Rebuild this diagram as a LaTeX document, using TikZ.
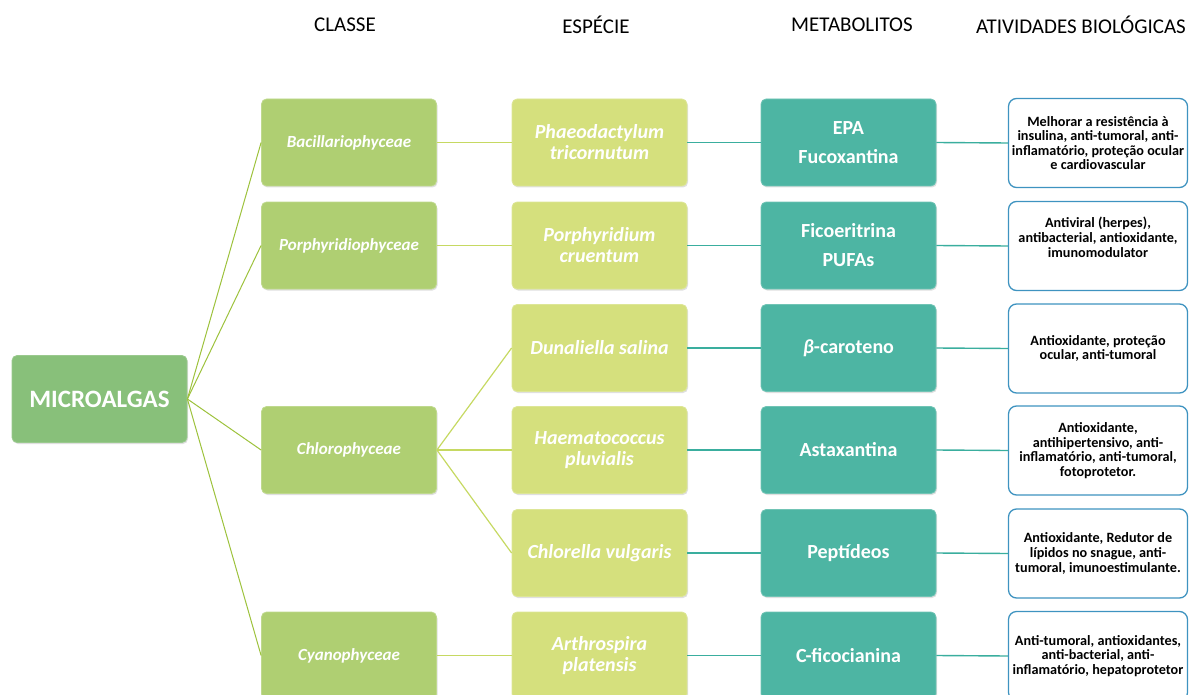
\documentclass[tikz,border=0pt]{standalone}
\usepackage{fontspec}
\setmainfont{Carlito}
\usetikzlibrary{shadows}
\definecolor{cmain}{HTML}{88C07A}
\definecolor{cclass}{HTML}{AFCF72}
\definecolor{cspec}{HTML}{D5E07D}
\definecolor{cmeta}{HTML}{4DB5A3}
\definecolor{cact}{HTML}{3E93C0}
\definecolor{lgreen}{HTML}{9DC23C}
\definecolor{lyel}{HTML}{C6D962}
\definecolor{lteal}{HTML}{3AAE9E}
\tikzset{
  box/.style={rounded corners=5pt, minimum width=175pt, minimum height=87pt, inner sep=2pt, align=center, text=white,
    drop shadow={opacity=0.25, shadow xshift=1pt, shadow yshift=-1.5pt}},
  mainbox/.style={box, fill=cmain, draw=cmain!85!white, line width=0.8pt, font=\fontsize{25}{30}\selectfont\bfseries},
  classbox/.style={box, fill=cclass, draw=cclass!80!white, line width=0.8pt, font=\fontsize{17}{20}\selectfont\bfseries\itshape},
  specbox/.style={box, fill=cspec, draw=cspec!80!white, line width=0.8pt, font=\fontsize{20}{21}\selectfont\bfseries\itshape},
  metabox/.style={box, fill=cmeta, draw=cmeta!80!white, line width=0.8pt, font=\fontsize{20}{29}\selectfont\bfseries},
  actbox/.style={rounded corners=8pt, minimum width=179pt, minimum height=89pt, inner sep=1pt, align=center, fill=white,
    draw=cact, line width=1.3pt, font=\fontsize{14.2}{14.6}\selectfont\bfseries, text=black},
  hdr/.style={font=\fontsize{21}{24}\selectfont, text=black},
  gl/.style={draw=lgreen, line width=1pt},
  yl/.style={draw=lyel, line width=1.2pt},
  tl/.style={draw=lteal, line width=1.4pt}
}
\begin{document}
\begin{tikzpicture}[x=1pt,y=-1pt]
\useasboundingbox (0,0) rectangle (1193,695);
% headers
\node[hdr] (h1) at (345,25) {CLASSE};
\node[hdr] (h2) at (596,25) {ESPÉCIE};
\node[hdr] (h3) at (852,25) {METABOLITOS};
\node[hdr] (h4) at (1081,25) {ATIVIDADES BIOLÓGICAS};
% main
\node[mainbox] (m) at (99.5,399) {MICROALGAS};
% classes
\node[classbox] (c1) at (349,142.5) {Bacillariophyceae};
\node[classbox] (c2) at (349,245.5) {Porphyridiophyceae};
\node[classbox] (c3) at (349,450) {Chlorophyceae};
\node[classbox] (c4) at (349,655.5) {Cyanophyceae};
% species
\node[specbox] (s1) at (599.5,142.5) {Phaeodactylum\\tricornutum};
\node[specbox] (s2) at (599.5,245.5) {Porphyridium\\cruentum};
\node[specbox] (s3) at (599.5,348) {Dunaliella salina};
\node[specbox] (s4) at (599.5,450) {Haematococcus\\pluvialis};
\node[specbox] (s5) at (599.5,553) {Chlorella vulgaris};
\node[specbox] (s6) at (599.5,655.5) {Arthrospira\\platensis};
% metabolites
\node[metabox] (t1) at (848.5,142.5) {EPA\\Fucoxantina};
\node[metabox] (t2) at (848.5,245.5) {Ficoeritrina\\PUFAs};
\node[metabox] (t3) at (848.5,348) {\textit{β}-caroteno};
\node[metabox] (t4) at (848.5,450) {Astaxantina};
\node[metabox] (t5) at (848.5,553) {Peptídeos};
\node[metabox] (t6) at (848.5,655.5) {C-ficocianina};
% activities
\node[actbox] (a1) at (1098,143) {Melhorar a resistência à\\insulina, anti-tumoral, anti-\\inflamatório, proteção ocular\\e cardiovascular};
\node[actbox] (a2) at (1098,246) {Antiviral (herpes),\\antibacterial, antioxidante,\\imunomodulator\\[3pt]};
\node[actbox] (a3) at (1098,348.5) {Antioxidante, proteção\\ocular, anti-tumoral};
\node[actbox] (a4) at (1098,450.5) {Antioxidante,\\antihipertensivo, anti-\\inflamatório, anti-tumoral,\\fotoprotetor.};
\node[actbox] (a5) at (1098,553.5) {Antioxidante, Redutor de\\lípidos no snague, anti-\\tumoral, imunoestimulante.};
\node[actbox] (a6) at (1098,656) {Anti-tumoral, antioxidantes,\\anti-bacterial, anti-\\inflamatório, hepatoprotetor};
% connectors
\foreach \c in {c1,c2,c3,c4} \draw[gl] (m.east) -- (\c.west);
\draw[yl] (c1.east) -- (s1.west);
\draw[yl] (c2.east) -- (s2.west);
\draw[yl] (c3.east) -- (s3.west);
\draw[yl] (c3.east) -- (s4.west);
\draw[yl] (c3.east) -- (s5.west);
\draw[yl] (c4.east) -- (s6.west);
\foreach \i in {1,...,6} {
  \draw[tl] (s\i.east) -- (t\i.west);
  \draw[tl] (t\i.east) -- (a\i.west);
}
\end{tikzpicture}
\end{document}
